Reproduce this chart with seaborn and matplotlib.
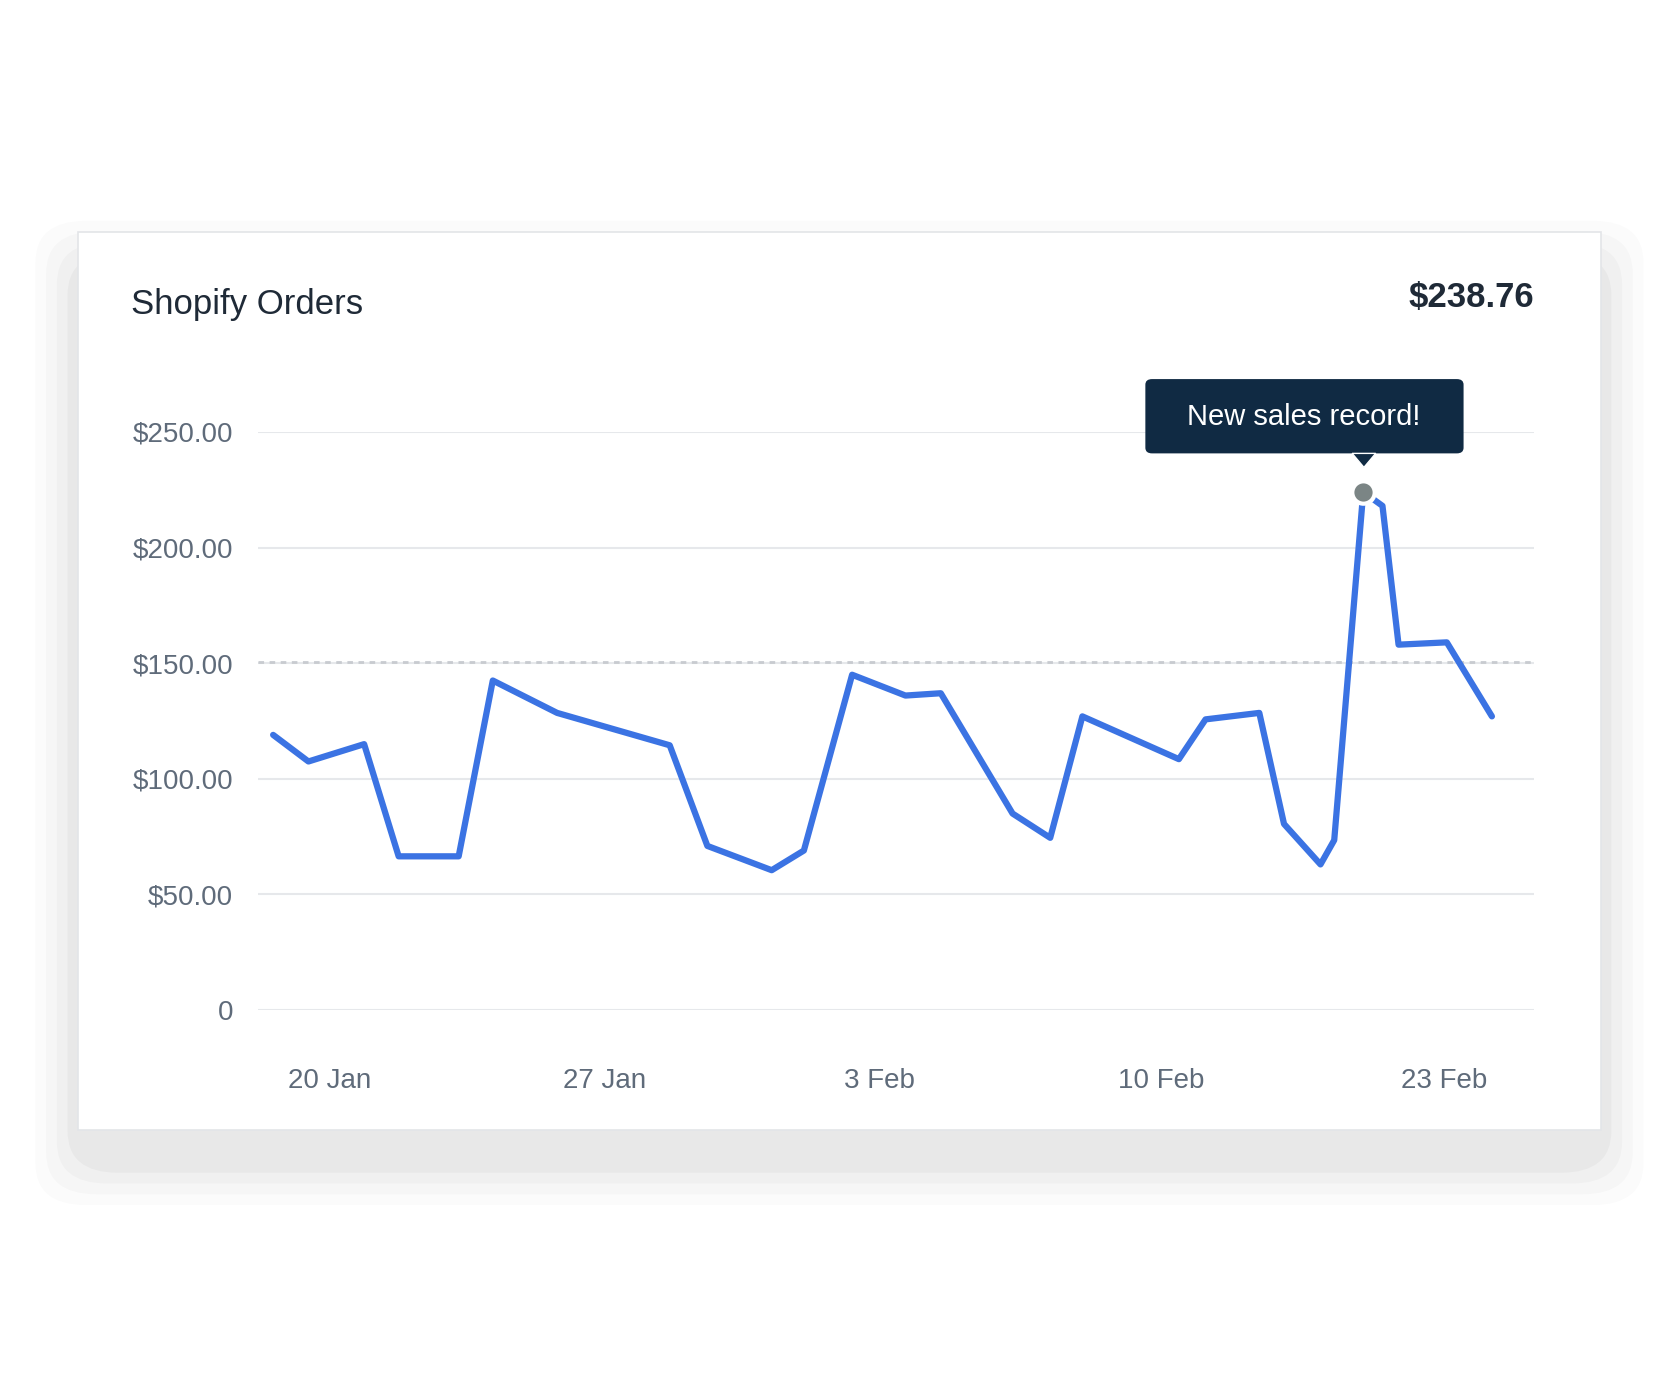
import numpy as np
import matplotlib.pyplot as plt
from matplotlib.patches import FancyBboxPatch, Rectangle
import seaborn as sns
import pandas as pd

sns.set_theme(style="white")
plt.rcParams['font.family'] = ['Liberation Sans', 'DejaVu Sans']

# day offsets from 20 Jan and order totals ($)
days = [-1.45, -0.55, 0.87, 1.75, 3.28, 4.15, 5.79, 8.66, 9.62, 11.26, 12.08,
        13.31, 14.67, 15.57, 17.4, 18.36, 19.18, 21.64, 22.32, 23.69, 24.32,
        25.25, 25.6, 26.34, 26.83, 27.24, 28.47, 29.62]
orders = [119, 107.5, 115, 66.5, 66.5, 142.5, 128.5, 114.5, 71, 60.5, 69,
          145, 136, 137, 85, 74.5, 127, 108.5, 125.7, 128.5, 80.5, 63, 73.5,
          224, 218, 158, 159, 127]
tick_pos = [0, 7, 14, 21.2, 28.4]
tick_labels = ["20 Jan", "27 Jan", "3 Feb", "10 Feb", "23 Feb"]
y_ticks = [0, 50, 100, 150, 200, 250]
y_labels = ["0", "$50.00", "$100.00", "$150.00", "$200.00", "$250.00"]
target = 150.4
peak_idx = 23

W, H = 1568, 1300
fig = plt.figure(figsize=(16.8, 14), dpi=100)
fig.patch.set_facecolor("white")

def fx(px): return px / W
def fy(py): return 1 - py / H

# card shadow + card
for i, a in enumerate([0.015, 0.02, 0.025, 0.03]):
    g = 40 - i * 10
    fig.patches.append(FancyBboxPatch((fx(73 - g), fy(1049 + g + 30)), fx(1421 + 2 * g), (1049 - 215 + 2 * g) / H,
                                      boxstyle="round,pad=0,rounding_size=0.03", transform=fig.transFigure,
                                      facecolor="black", alpha=a, edgecolor="none", zorder=0))
fig.patches.append(Rectangle((fx(73), fy(1049)), fx(1421), (1049 - 215) / H, transform=fig.transFigure,
                             facecolor="white", edgecolor="#e3e5e8", lw=1.2, zorder=1))

fig.text(fx(122), fy(283), "Shopify Orders", fontsize=25, color="#1f2a37", va="center", zorder=3)
fig.text(fx(1432), fy(276), "$238.76", fontsize=25, color="#1f2a37", weight="bold", ha="right", va="center", zorder=3)

ax = fig.add_axes([fx(241), fy(938), fx(1432 - 241), (938 - 401) / H], zorder=2)
ax.set_facecolor("none")
df = pd.DataFrame({"day": days, "orders": orders})
sns.lineplot(data=df, x="day", y="orders", ax=ax, color="#3b73e3", lw=4.5, zorder=4)
ax.set_xlim(-1.83, 30.7)
ax.set_ylim(0, 250)
ax.set_yticks(y_ticks)
ax.set_yticklabels(y_labels)
ax.set_xticks(tick_pos)
ax.set_xticklabels(tick_labels)
for v in y_ticks:
    ax.axhline(v, color="#e6e8eb", lw=1.5, zorder=1)
ax.axhline(target, color="#c8cbd0", lw=2, ls=(0, (2, 2)), zorder=2)
ax.tick_params(axis="y", length=0, pad=18, labelsize=20, labelcolor="#5f6b7a")
ax.tick_params(axis="x", length=0, pad=42, labelsize=20, labelcolor="#5f6b7a")
ax.set_xlabel("")
ax.set_ylabel("")
sns.despine(ax=ax, left=True, bottom=True)

px, py = days[peak_idx], orders[peak_idx]
ax.scatter([px], [py], s=260, color="#7b8585", edgecolor="white", linewidth=3, zorder=6, clip_on=False)

# tooltip
fig.patches.append(FancyBboxPatch((fx(1069), fy(421)), fx(297), 69 / H,
                                  boxstyle="round,pad=0,rounding_size=0.004", transform=fig.transFigure,
                                  facecolor="#102a43", edgecolor="none", zorder=5))
fig.patches.append(plt.Polygon([[fx(1262), fy(421)], [fx(1284), fy(421)], [fx(1273), fy(434)]],
                               transform=fig.transFigure, facecolor="#102a43", zorder=5))
fig.text(fx(1217), fy(387), "New sales record!", fontsize=21, color="white", ha="center", va="center", zorder=6)

fig.savefig("out.png", dpi=100, facecolor="white")
